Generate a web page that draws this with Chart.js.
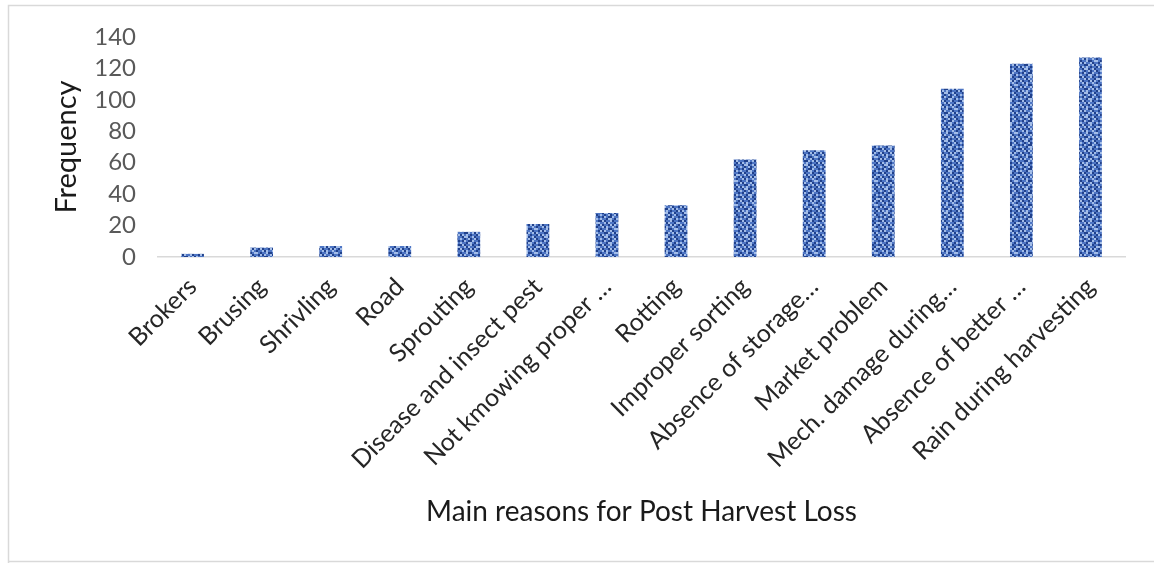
<!DOCTYPE html>
<html>
<head>
<meta charset="utf-8">
<script src="https://cdn.jsdelivr.net/npm/chart.js@4/dist/chart.umd.min.js"></script>
<style>
  html, body { margin: 0; padding: 0; background: #fff; }
  #wrap { width: 1154px; height: 563px; position: relative; }
</style>
</head>
<body>
<div id="wrap"><canvas id="c" width="1154" height="563"></canvas></div>
<script>
// Reasons for post-harvest loss, ordered by frequency
const categories = [
  'Brokers', 'Brusing', 'Shrivling', 'Road', 'Sprouting',
  'Disease and insect pest', 'Not kmowing proper …', 'Rotting',
  'Improper sorting', 'Absence of storage…', 'Market problem',
  'Mech. damage during…', 'Absence of better …', 'Rain during harvesting'
];
const frequency = [2, 6, 7, 7, 16, 21, 28, 33, 62, 68, 71, 107, 123, 127];
const yTicks = [0, 20, 40, 60, 80, 100, 120, 140];

// Mottled blue texture used to fill the bars
function makeTexture() {
  const rows = [
    'MDLMDDLMMD',
    'LMMDLLMDLM',
    'DLDMMLDMMD',
    'MMLDLMMDLL',
    'LDMMDLDLMD',
    'MLDLMMLMDM',
    'DMMLDDMLLM',
    'LDLMMLDMMD',
    'MMDDLMLDLM',
    'DLMLMDMMDL',
    'MDLLDMLDMM',
    'LMDMLDMLDM'
  ];
  const shades = { D: '#21418b', M: '#4d75c4', L: '#a3bde8' };
  const t = document.createElement('canvas');
  const s = 2;
  t.width = rows[0].length * s;
  t.height = rows.length * s;
  const g = t.getContext('2d');
  rows.forEach((r, y) => {
    [...r].forEach((ch, x) => {
      g.fillStyle = shades[ch];
      g.fillRect(x * s, y * s, s, s);
    });
  });
  return g.createPattern(t, 'repeat');
}

const ctx = document.getElementById('c').getContext('2d');
const texture = makeTexture();

const frame = {
  id: 'frame',
  beforeDraw(chart) {
    const c = chart.ctx;
    c.save();
    c.fillStyle = '#ffffff';
    c.fillRect(0, 0, chart.width, chart.height);
    c.strokeStyle = '#d9d9d9';
    c.lineWidth = 1.5;
    c.beginPath();
    c.moveTo(8.5, 563);
    c.lineTo(8.5, 5.5);
    c.lineTo(1154, 5.5);
    c.moveTo(8.5, 561.5);
    c.lineTo(1154, 561.5);
    c.stroke();
    c.restore();
  }
};

new Chart(ctx, {
  type: 'bar',
  data: {
    labels: categories,
    datasets: [{
      label: 'Frequency',
      data: frequency,
      backgroundColor: texture,
      borderWidth: 0,
      categoryPercentage: 1,
      barPercentage: 0.33
    }]
  },
  options: {
    responsive: false,
    animation: false,
    devicePixelRatio: 1,
    layout: { padding: { left: 46, right: 29, top: 37, bottom: 0 } },
    plugins: {
      legend: { display: false },
      tooltip: { enabled: false }
    },
    scales: {
      x: {
        grid: { display: false, drawTicks: false },
        border: { display: true, color: '#d9d9d9', width: 1.5 },
        ticks: {
          color: '#262626',
          font: { family: 'Lato', size: 25 },
          minRotation: 45,
          maxRotation: 45,
          autoSkip: false,
          padding: 15
        },
        title: {
          display: true,
          text: 'Main reasons for Post Harvest Loss',
          color: '#1a1a1a',
          font: { family: 'Lato', size: 28 },
          padding: { top: 4, bottom: 34 }
        },
        afterFit(scale) { scale.height = 563 - 257; }
      },
      y: {
        min: 0,
        max: 140,
        afterBuildTicks(scale) { scale.ticks = yTicks.map(v => ({ value: v })); },
        grid: { display: false, drawTicks: false },
        border: { display: false },
        ticks: {
          color: '#595959',
          font: { family: 'Lato', size: 24 },
          padding: 22,
          autoSkip: false
        },
        title: {
          display: true,
          text: 'Frequency',
          color: '#1a1a1a',
          font: { family: 'Lato', size: 29 },
          padding: { top: 3, bottom: 4 }
        },
        afterFit(scale) { scale.width = 158 - 46; }
      }
    }
  },
  plugins: [frame]
});
</script>
</body>
</html>
